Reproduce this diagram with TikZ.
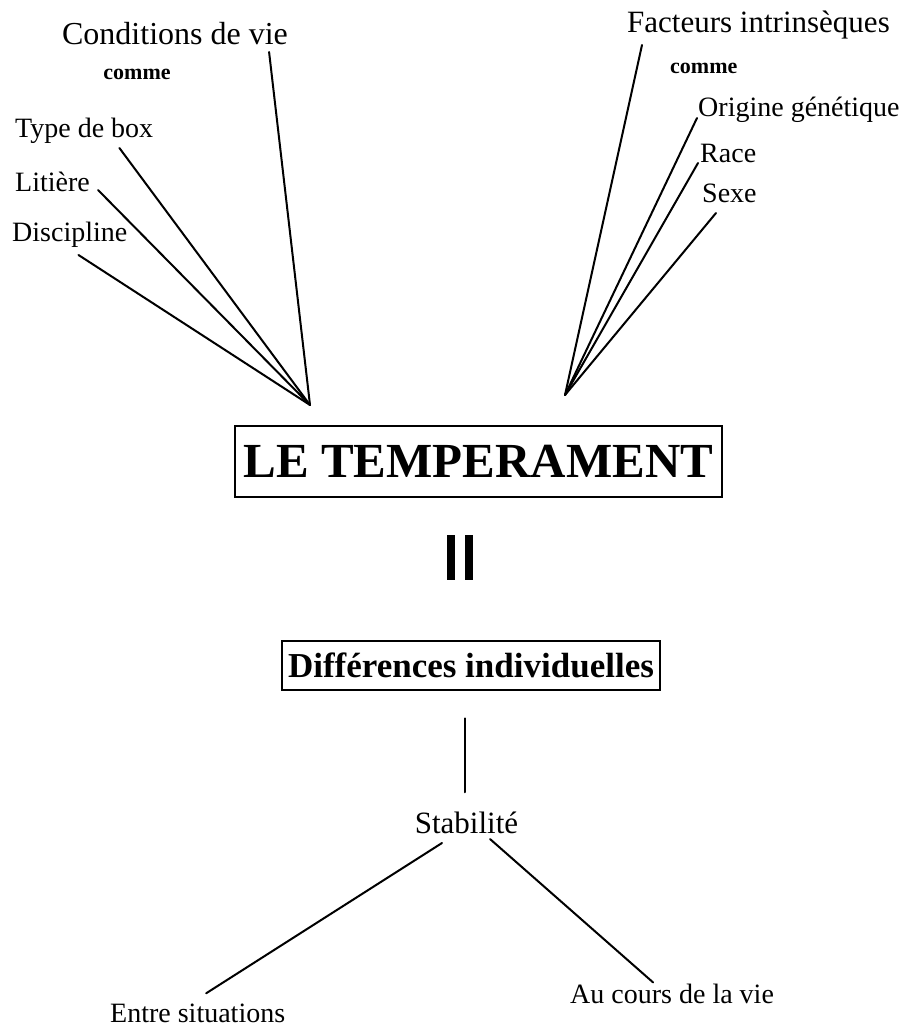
\documentclass[tikz,border=0pt]{standalone}
\usepackage{fontspec}
\setmainfont{Liberation Serif}
\usepackage{tikz}
\usetikzlibrary{positioning,calc}

\begin{document}
\begin{tikzpicture}[x=1pt,y=-1pt,
  lbl/.style={inner sep=0pt,anchor=base west,font=\fontsize{28}{30}\selectfont},
  link/.style={line width=2pt,line cap=round},
  framed/.style={draw,line width=2.5pt,inner sep=0pt}]
\useasboundingbox (0,0) rectangle (902,1030);

% Conditions de vie (left fan)
\node[lbl,anchor=base,font=\fontsize{32}{34}\selectfont] (cond) at (175,45) {Conditions de vie};
\node[lbl,anchor=base,font=\fontsize{22}{24}\selectfont\bfseries] (comL) at (137,80) {comme};
\node[lbl] (box) at (15,137) {Type de box};
\node[lbl] (lit) at (15,191) {Litière};
\node[lbl] (disc) at (12,241) {Discipline};
\coordinate (lhub) at (310,405);

\foreach \n/\dx/\dy in {cond/-19/-7, box/-34/-11, lit/8/1, disc/-49/-14}
  \draw[link] ([xshift=\dx pt,yshift=\dy pt]\n.base east) -- (lhub);

% Facteurs intrinseques (right fan)
\node[lbl,font=\fontsize{31}{33}\selectfont] (fact) at (627,33) {Facteurs intrinsèques};
\node[lbl,font=\fontsize{22}{24}\selectfont\bfseries] (comR) at (670,74) {comme};
\node[lbl] (orig) at (698,117) {Origine génétique};
\node[lbl] (race) at (700,162) {Race};
\node[lbl] (sexe) at (702,202) {Sexe};
\coordinate (rhub) at (565,395);

\foreach \n/\dx/\dy in {fact/15/-12, orig/-1/-1, race/-2/-1, sexe/14/-11}
  \draw[link] ([xshift=\dx pt,yshift=\dy pt]\n.base west) -- (rhub);

% Centre
\node[framed,minimum width=487pt,minimum height=71pt,
      font=\fontsize{49}{50}\selectfont\bfseries] (temp) at (478.5,461.5) {LE TEMPERAMENT};

\coordinate (eq) at (460,557.5);
\foreach \dx in {-9,9}
  \draw[line width=8pt] ([xshift=\dx pt,yshift=22.5pt]eq) -- ([xshift=\dx pt,yshift=-22.5pt]eq);

\node[framed,minimum width=378pt,minimum height=49pt,
      font=\fontsize{35}{36}\selectfont\bfseries] (diff) at (471,665.5) {Différences individuelles};

% Stabilite
\node[lbl,anchor=base,font=\fontsize{31}{33}\selectfont] (stab) at (466.5,833) {Stabilité};
\node[lbl] (entre) at (110,1022) {Entre situations};
\node[lbl] (cours) at (570,1003) {Au cours de la vie};

\draw[link] ([xshift=-6pt,yshift=-27pt]diff.south) -- ([xshift=-1.5pt,yshift=19pt]stab.north);
\draw[link] ([xshift=-24.5pt,yshift=-10pt]stab.base) -- ([xshift=8.5pt,yshift=10pt]entre.north);
\draw[link] ([xshift=23.5pt,yshift=-6pt]stab.base) -- ([xshift=-19pt,yshift=1pt]cours.north);
\end{tikzpicture}
\end{document}
